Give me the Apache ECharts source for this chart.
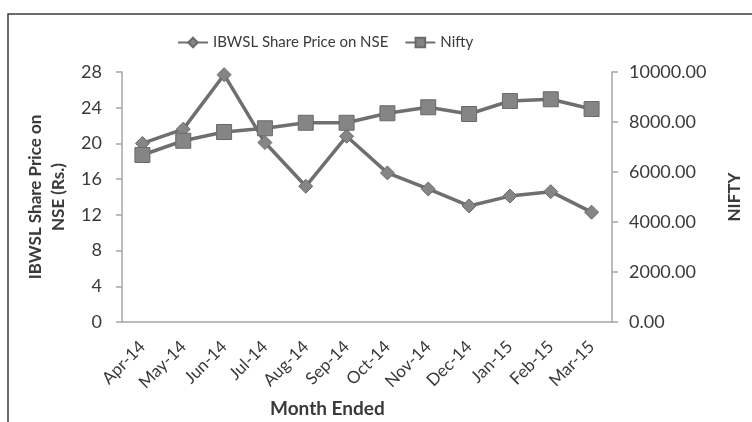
<!DOCTYPE html>
<html>
<head>
<meta charset="utf-8">
<script src="https://cdn.jsdelivr.net/npm/echarts@6/dist/echarts.min.js"></script>
<style>
  html, body { margin: 0; padding: 0; background: #fff; }
  #chart { width: 752px; height: 422px; }
</style>
</head>
<body>
<div id="chart"></div>
<script>
const months = ['Apr-14', 'May-14', 'Jun-14', 'Jul-14', 'Aug-14', 'Sep-14', 'Oct-14', 'Nov-14', 'Dec-14', 'Jan-15', 'Feb-15', 'Mar-15']
const ibwslPrice = [20.0, 21.6, 27.7, 20.1, 15.2, 20.8, 16.7, 14.9, 13.0, 14.1, 14.6, 12.3]
const nifty = [6680, 7250, 7600, 7750, 7970, 7970, 8350, 8590, 8320, 8840, 8910, 8520]

const font = 'Lato'
const lineGray = '#6f6f6f'
const axisGray = '#a6a6a6'
const textColor = '#3a3a3a'

const chart = echarts.init(document.getElementById('chart'))
chart.setOption({
  animation: false,
  textStyle: { fontFamily: font },
  graphic: [
    // outer frame
    { type: 'rect', shape: { x: 8, y: 14, width: 760, height: 420 },
      style: { fill: 'none', stroke: '#3c3c3c', lineWidth: 1.5 } },
    { type: 'text', left: 270, top: 399,
      style: { text: 'Month Ended', font: 'bold 19px Lato', fill: textColor } }
  ],
  legend: {
    top: 30,
    left: 172,
    itemGap: 16,
    itemWidth: 30,
    itemHeight: 12,
    textStyle: { fontSize: 15, color: textColor, fontFamily: font }
  },
  grid: { left: 122, right: 140, top: 72, bottom: 100 },
  xAxis: {
    type: 'category',
    data: months,
    boundaryGap: true,
    axisLine: { lineStyle: { color: axisGray, width: 1.5 } },
    axisTick: { length: 6, lineStyle: { color: axisGray, width: 1.5 } },
    axisLabel: { rotate: 45, margin: 22, fontSize: 17, color: textColor, interval: 0 }
  },
  yAxis: [
    {
      type: 'value',
      min: 0, max: 28, interval: 4,
      name: 'IBWSL Share Price on\nNSE (Rs.)',
      nameLocation: 'middle',
      nameGap: 50,
      nameTextStyle: { fontSize: 17, fontWeight: 'bold', color: textColor, lineHeight: 23 },
      axisLine: { show: true, lineStyle: { color: axisGray, width: 1.5 } },
      axisTick: { show: true, length: 6, lineStyle: { color: axisGray, width: 1.5 } },
      axisLabel: { fontSize: 18, color: textColor, margin: 20 },
      splitLine: { show: false }
    },
    {
      type: 'value',
      min: 0, max: 10000, interval: 2000,
      name: 'NIFTY',
      nameLocation: 'middle',
      nameGap: 114,
      nameRotate: 90,
      nameTextStyle: { fontSize: 17, fontWeight: 'bold', color: textColor },
      axisLine: { show: true, lineStyle: { color: axisGray, width: 1.5 } },
      axisTick: { show: true, length: 6, lineStyle: { color: axisGray, width: 1.5 } },
      axisLabel: { fontSize: 18, color: textColor, margin: 17,
        formatter: v => v.toFixed(2) },
      splitLine: { show: false }
    }
  ],
  series: [
    {
      name: 'IBWSL Share Price on NSE',
      type: 'line',
      yAxisIndex: 0,
      data: ibwslPrice,
      symbol: 'diamond',
      symbolSize: 14,
      lineStyle: { color: lineGray, width: 3.5 },
      itemStyle: { color: '#858585', borderColor: '#6a6a6a', borderWidth: 1 }
    },
    {
      name: 'Nifty',
      type: 'line',
      yAxisIndex: 1,
      data: nifty,
      symbol: 'rect',
      symbolSize: 15,
      lineStyle: { color: lineGray, width: 3.5 },
      itemStyle: { color: '#858585', borderColor: '#6a6a6a', borderWidth: 1 }
    }
  ]
})
</script>
</body>
</html>
